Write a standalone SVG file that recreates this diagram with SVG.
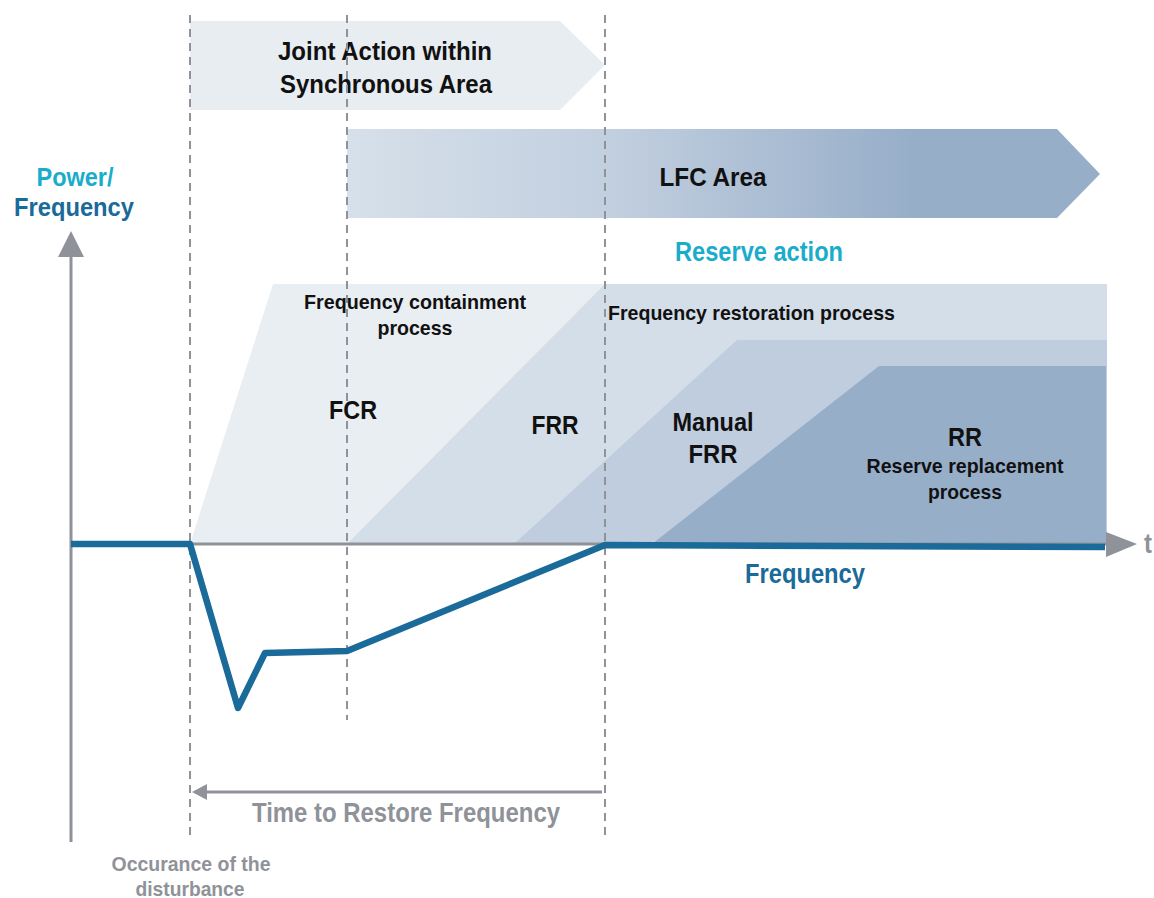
<svg xmlns="http://www.w3.org/2000/svg" width="1154" height="898" viewBox="0 0 1154 898">
<defs>
<linearGradient id="lfcGrad" x1="0" y1="0" x2="1" y2="0">
<stop offset="0" stop-color="#d6e0ea"/>
<stop offset="0.35" stop-color="#c2cfdf"/>
<stop offset="0.75" stop-color="#97aec9"/>
<stop offset="1" stop-color="#97aec9"/>
</linearGradient>
</defs>
<style>
text{font-family:"Liberation Sans",Arial,sans-serif;font-weight:bold;text-anchor:middle}
.blk{fill:#111111}
.cyan{fill:#1aaccb}
.dblue{fill:#1a6a9a}
.gray{fill:#8f9298}
.dash{stroke:#8f9298;stroke-width:2;stroke-dasharray:8,6;fill:none}
.axis{stroke:#8f9298;stroke-width:3;fill:none}
</style>
<rect width="1154" height="898" fill="#ffffff"/>

<g id="reserve-shapes">
<polygon id="fcr" points="190,544 273,284 1107,284 1107,544" fill="#e9eef3"/>
<polygon id="frr" points="347,544 605,284 1107,284 1107,544" fill="#d4dee8"/>
<polygon id="mfrr" points="514,544 737,340 1107,340 1107,544" fill="#bfcddf"/>
<polygon id="rr" points="652,544 879,366 1106,366 1106,544" fill="#97aec9"/>
</g>

<g id="joint-action">
<polygon points="190,21 560,21 605,65 560,110 190,110" fill="#e8edf2"/>
<text class="blk" x="385" y="60" font-size="26" textLength="214" lengthAdjust="spacingAndGlyphs">Joint Action within</text>
<text class="blk" x="386" y="93" font-size="26" textLength="212" lengthAdjust="spacingAndGlyphs">Synchronous Area</text>
</g>

<g id="lfc-area">
<polygon points="347,129 1057,129 1100,174 1057,218 347,218" fill="url(#lfcGrad)"/>
<text class="blk" x="713" y="186" font-size="26" textLength="107" lengthAdjust="spacingAndGlyphs">LFC Area</text>
</g>

<g id="guides">
<line class="dash" x1="190" y1="15" x2="190" y2="836"/>
<line class="dash" x1="347" y1="15" x2="347" y2="720"/>
<line class="dash" x1="605" y1="15" x2="605" y2="836"/>
</g>

<g id="labels">
<text class="cyan" x="75" y="186" font-size="26" textLength="77" lengthAdjust="spacingAndGlyphs">Power/</text>
<text class="dblue" x="74" y="216" font-size="26" textLength="120" lengthAdjust="spacingAndGlyphs">Frequency</text>
<text class="cyan" x="759" y="261" font-size="27" textLength="168" lengthAdjust="spacingAndGlyphs">Reserve action</text>
<text class="blk" x="415" y="309" font-size="21" textLength="222" lengthAdjust="spacingAndGlyphs">Frequency containment</text>
<text class="blk" x="415" y="335" font-size="21" textLength="75" lengthAdjust="spacingAndGlyphs">process</text>
<text class="blk" x="608" y="320" font-size="21" style="text-anchor:start" textLength="287" lengthAdjust="spacingAndGlyphs">Frequency restoration process</text>
<text class="blk" x="353" y="419" font-size="26" textLength="48" lengthAdjust="spacingAndGlyphs">FCR</text>
<text class="blk" x="555" y="434" font-size="26" textLength="47" lengthAdjust="spacingAndGlyphs">FRR</text>
<text class="blk" x="713" y="431" font-size="26" textLength="81" lengthAdjust="spacingAndGlyphs">Manual</text>
<text class="blk" x="713" y="463" font-size="26" textLength="49" lengthAdjust="spacingAndGlyphs">FRR</text>
<text class="blk" x="965" y="446" font-size="26" textLength="34" lengthAdjust="spacingAndGlyphs">RR</text>
<text class="blk" x="965" y="473" font-size="21" textLength="197" lengthAdjust="spacingAndGlyphs">Reserve replacement</text>
<text class="blk" x="965" y="499" font-size="21" textLength="74" lengthAdjust="spacingAndGlyphs">process</text>
<text class="dblue" x="805" y="583" font-size="27" textLength="120" lengthAdjust="spacingAndGlyphs">Frequency</text>
<text class="gray" x="1144" y="553" font-size="27" style="text-anchor:start" textLength="8" lengthAdjust="spacingAndGlyphs">t</text>
<text class="gray" x="406" y="822" font-size="28" textLength="308" lengthAdjust="spacingAndGlyphs">Time to Restore Frequency</text>
<text class="gray" x="191" y="871" font-size="21" textLength="159" lengthAdjust="spacingAndGlyphs">Occurance of the</text>
<text class="gray" x="190" y="896" font-size="21" textLength="109" lengthAdjust="spacingAndGlyphs">disturbance</text>
</g>

<g id="connectors">
<line id="y-axis" class="axis" x1="71" y1="842" x2="71" y2="257"/>
<polygon points="58,257 84,257 71,231" fill="#8f9298"/>
<line id="x-axis" class="axis" x1="71" y1="544" x2="1106" y2="544"/>
<polygon points="1106,532 1106,557 1137,544" fill="#8f9298"/>
<polyline id="frequency-curve" points="71,544 190,544 238,708 265,653 347,651 605,545 1105,547" fill="none" stroke="#1a6a9a" stroke-width="6.5" stroke-linejoin="round"/>
<line id="restore-arrow" x1="602" y1="792" x2="206" y2="792" stroke="#8f9298" stroke-width="3"/>
<polygon points="192,792 207,784 207,800" fill="#8f9298"/>
</g>
</svg>
